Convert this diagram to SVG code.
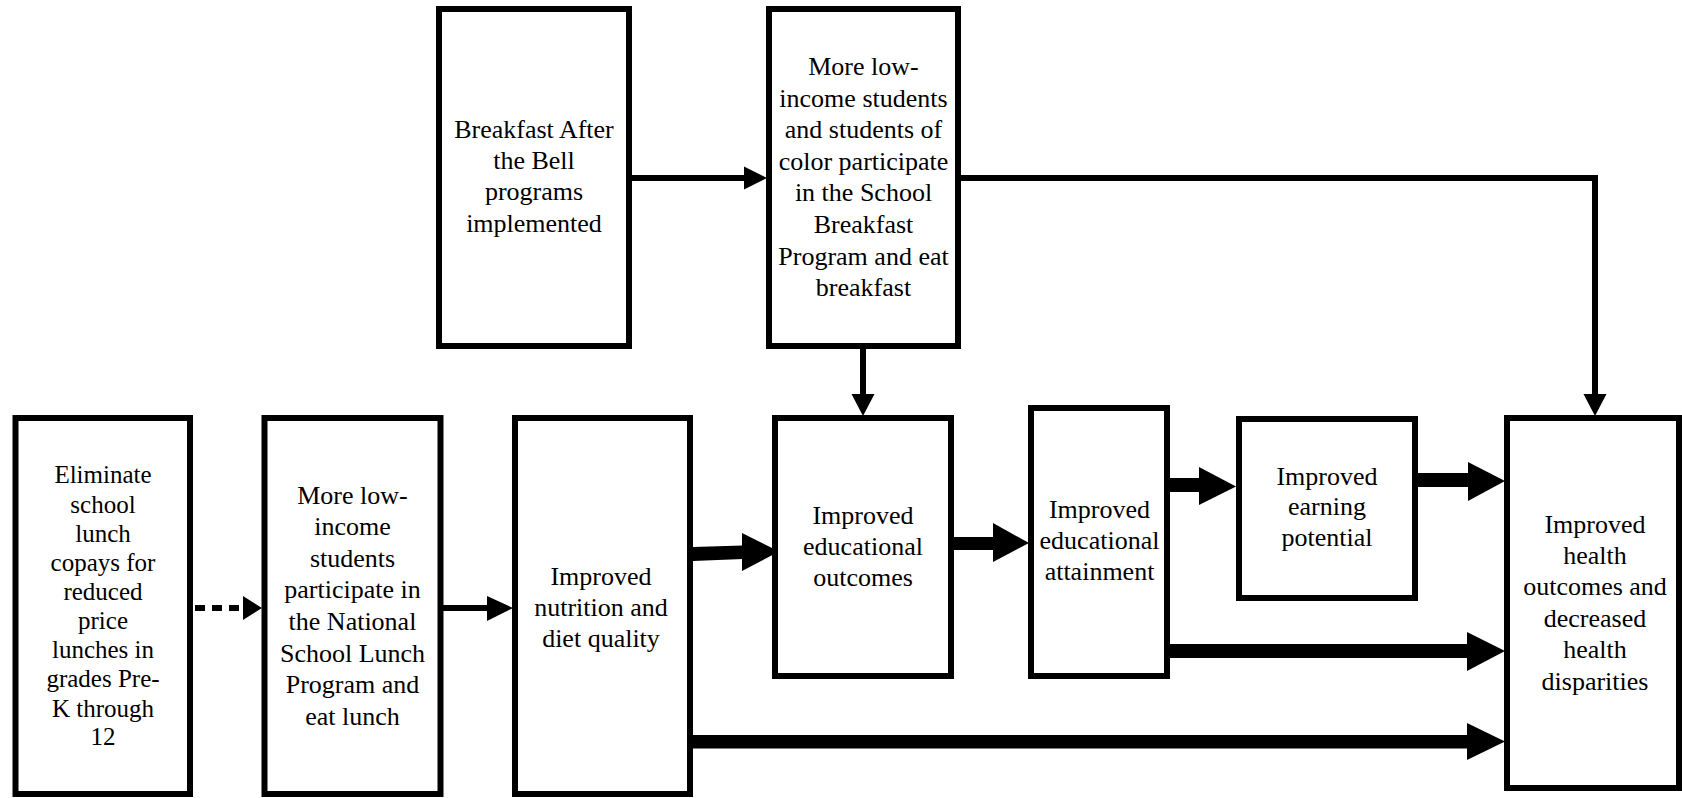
<svg xmlns="http://www.w3.org/2000/svg" width="1682" height="798" viewBox="0 0 1682 798">
<style>
.box{fill:#fff;stroke:#000;stroke-width:6}
.t{font-family:"Liberation Serif","Times New Roman",serif;font-size:26px;fill:#000;text-anchor:middle}
.t25{font-size:25px}
.thin{stroke:#000;stroke-width:6;fill:none}
.dash{stroke:#000;stroke-width:6;fill:none;stroke-dasharray:10 7}
.head{fill:#000;stroke:none}
</style>
<rect width="1682" height="798" fill="#fff"/>
<g id="connectors">
  <!-- Breakfast -> SBP -->
  <line class="thin" x1="632" y1="178" x2="746" y2="178"/>
  <polygon class="head" points="744,166.5 767,178 744,189.5"/>
  <!-- SBP -> Health -->
  <polyline class="thin" points="961,178 1595,178 1595,397"/>
  <polygon class="head" points="1583.5,394 1595,416 1606.5,394"/>
  <!-- SBP -> Educational outcomes -->
  <line class="thin" x1="863" y1="349" x2="863" y2="397"/>
  <polygon class="head" points="851.5,394 863,416 874.5,394"/>
  <!-- Eliminate -> Lunch participation (dashed) -->
  <line class="dash" x1="195" y1="608" x2="243" y2="608"/>
  <polygon class="head" points="243,596 262,608 243,620"/>
  <!-- Lunch participation -> Nutrition -->
  <line class="thin" x1="443" y1="608" x2="490" y2="608"/>
  <polygon class="head" points="487,596 513,608 487,621"/>
  <!-- Nutrition -> Educational outcomes -->
  <polygon class="head" points="693,547 743,545.5 743,559 693,561"/>
  <polygon class="head" points="742,533 779,551.5 742,571"/>
  <!-- Educational outcomes -> Attainment -->
  <rect class="head" x="950" y="537" width="45" height="13" rx="0"/>
  <circle class="head" cx="950" cy="543.5" r="6.5"/>
  <polygon class="head" points="993,523 1029,543 993,562"/>
  <!-- Attainment -> Earning -->
  <rect class="head" x="1170" y="478" width="31" height="14"/>
  <polygon class="head" points="1199,467 1236,486.5 1199,505"/>
  <!-- Earning -> Health -->
  <rect class="head" x="1418" y="473" width="52" height="14"/>
  <polygon class="head" points="1468,462 1505,481 1468,501"/>
  <!-- Attainment -> Health -->
  <rect class="head" x="1170" y="644" width="299" height="14"/>
  <polygon class="head" points="1467,632 1505,651 1467,671"/>
  <!-- Nutrition -> Health -->
  <rect class="head" x="693" y="735" width="776" height="13.5"/>
  <polygon class="head" points="1467,723 1505,741.5 1467,760"/>
</g>
<g id="node-breakfast">
  <rect class="box" x="439" y="9" width="190" height="337"/>
  <text class="t" x="534" y="138">Breakfast After</text>
  <text class="t" x="534" y="169">the Bell</text>
  <text class="t" x="534" y="200">programs</text>
  <text class="t" x="534" y="232">implemented</text>
</g>
<g id="node-sbp">
  <rect class="box" x="769" y="9" width="189" height="337"/>
  <text class="t" x="863.5" y="75">More low-</text>
  <text class="t" x="863.5" y="107">income students</text>
  <text class="t" x="863.5" y="138">and students of</text>
  <text class="t" x="863.5" y="170">color participate</text>
  <text class="t" x="863.5" y="201">in the School</text>
  <text class="t" x="863.5" y="233">Breakfast</text>
  <text class="t" x="863.5" y="265">Program and eat</text>
  <text class="t" x="863.5" y="296">breakfast</text>
</g>
<g id="node-eliminate">
  <rect class="box" x="15.5" y="418" width="174.5" height="376"/>
  <text class="t t25" x="103" y="483">Eliminate</text>
  <text class="t t25" x="103" y="513">school</text>
  <text class="t t25" x="103" y="542">lunch</text>
  <text class="t t25" x="103" y="571">copays for</text>
  <text class="t t25" x="103" y="600">reduced</text>
  <text class="t t25" x="103" y="629">price</text>
  <text class="t t25" x="103" y="658">lunches in</text>
  <text class="t t25" x="103" y="687">grades Pre-</text>
  <text class="t t25" x="103" y="717">K through</text>
  <text class="t t25" x="103" y="745">12</text>
</g>
<g id="node-nslp">
  <rect class="box" x="264.5" y="418" width="176" height="376"/>
  <text class="t" x="352.5" y="504">More low-</text>
  <text class="t" x="352.5" y="535">income</text>
  <text class="t" x="352.5" y="567">students</text>
  <text class="t" x="352.5" y="598">participate in</text>
  <text class="t" x="352.5" y="630">the National</text>
  <text class="t" x="352.5" y="662">School Lunch</text>
  <text class="t" x="352.5" y="693">Program and</text>
  <text class="t" x="352.5" y="725">eat lunch</text>
</g>
<g id="node-nutrition">
  <rect class="box" x="515" y="418" width="175" height="376"/>
  <text class="t" x="601" y="585">Improved</text>
  <text class="t" x="601" y="616">nutrition and</text>
  <text class="t" x="601" y="647">diet quality</text>
</g>
<g id="node-edoutcomes">
  <rect class="box" x="775" y="418" width="176" height="258"/>
  <text class="t" x="863" y="524">Improved</text>
  <text class="t" x="863" y="555">educational</text>
  <text class="t" x="863" y="586">outcomes</text>
</g>
<g id="node-attainment">
  <rect class="box" x="1031" y="408" width="136" height="268"/>
  <text class="t" x="1099.5" y="518">Improved</text>
  <text class="t" x="1099.5" y="549">educational</text>
  <text class="t" x="1099.5" y="580">attainment</text>
</g>
<g id="node-earning">
  <rect class="box" x="1239" y="419" width="176" height="179"/>
  <text class="t" x="1327" y="485">Improved</text>
  <text class="t" x="1327" y="515">earning</text>
  <text class="t" x="1327" y="546">potential</text>
</g>
<g id="node-health">
  <rect class="box" x="1507" y="418" width="172" height="370"/>
  <text class="t" x="1595" y="533">Improved</text>
  <text class="t" x="1595" y="564">health</text>
  <text class="t" x="1595" y="595">outcomes and</text>
  <text class="t" x="1595" y="627">decreased</text>
  <text class="t" x="1595" y="658">health</text>
  <text class="t" x="1595" y="690">disparities</text>
</g>
</svg>
